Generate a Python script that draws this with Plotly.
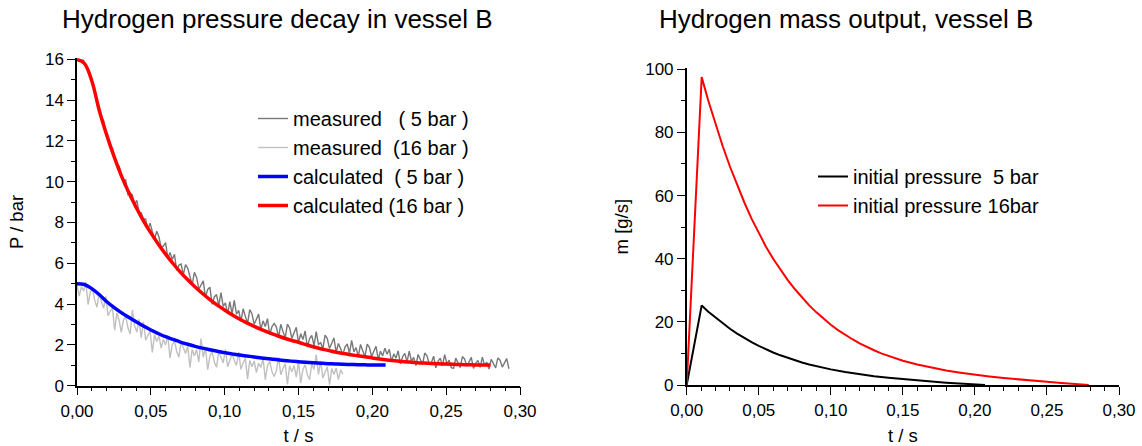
import numpy as np
import plotly.graph_objects as go

# ---------------- data: left chart (pressure) ----------------
t_calc_16 = [0, 0.005, 0.01, 0.015, 0.02, 0.025, 0.03, 0.035, 0.04, 0.045, 0.05, 0.055, 0.06, 0.065,
             0.07, 0.075, 0.08, 0.085, 0.09, 0.095, 0.10, 0.105, 0.11, 0.115, 0.12, 0.125, 0.13, 0.135,
             0.14, 0.145, 0.15, 0.155, 0.16, 0.165, 0.17, 0.175, 0.18, 0.185, 0.19, 0.195, 0.20, 0.205,
             0.21, 0.215, 0.22, 0.225, 0.23, 0.235, 0.24, 0.245, 0.25, 0.255, 0.26, 0.265, 0.27, 0.275, 0.28]
p_calc_16 = [16.0, 15.8, 14.95, 13.52, 12.32, 11.25, 10.3, 9.48, 8.75, 8.08, 7.49, 6.95, 6.45, 5.99,
             5.57, 5.19, 4.84, 4.52, 4.22, 3.95, 3.71, 3.48, 3.27, 3.08, 2.91, 2.75, 2.60, 2.47,
             2.34, 2.23, 2.13, 2.02, 1.91, 1.81, 1.73, 1.65, 1.585, 1.52, 1.47, 1.42, 1.36, 1.31,
             1.265, 1.225, 1.19, 1.16, 1.13, 1.107, 1.088, 1.072, 1.06, 1.047, 1.035, 1.027, 1.02, 1.014, 1.01]

t_calc_5 = [0, 0.005, 0.01, 0.015, 0.02, 0.025, 0.03, 0.035, 0.04, 0.045, 0.05, 0.055, 0.06, 0.065,
            0.07, 0.075, 0.08, 0.085, 0.09, 0.095, 0.10, 0.105, 0.11, 0.115, 0.12, 0.125, 0.13, 0.135,
            0.14, 0.145, 0.15, 0.155, 0.16, 0.165, 0.17, 0.175, 0.18, 0.185, 0.19, 0.195, 0.20, 0.205, 0.209]
p_calc_5 = [5.0, 4.96, 4.76, 4.47, 4.13, 3.84, 3.58, 3.35, 3.14, 2.93, 2.73, 2.56, 2.40, 2.27,
            2.14, 2.03, 1.93, 1.84, 1.76, 1.685, 1.62, 1.56, 1.50, 1.455, 1.41, 1.36, 1.32, 1.28,
            1.24, 1.205, 1.175, 1.145, 1.12, 1.10, 1.08, 1.065, 1.05, 1.04, 1.03, 1.022, 1.015, 1.012, 1.01]

# measured traces, sampled every 1.5 ms
dt_meas = 0.0015
p_meas_dark = [
    16.02, 15.95, 15.97, 15.95, 15.66, 15.53, 15.18, 14.92, 14.37, 14.01,
    13.66, 13.11, 13.01, 12.46, 12.22, 11.7, 11.64, 11.2, 10.8, 10.77,
    10.42, 10.04, 10.09, 9.37, 9.44, 9.35, 8.84, 9.09, 8.52, 8.48,
    8.17, 8.17, 7.63, 7.97, 7.56, 7.19, 7.57, 7.29, 6.78, 6.84,
    7.02, 6.25, 6.53, 6.19, 6.44, 5.65, 5.91, 5.96, 5.43, 5.94,
    5.76, 5.33, 4.95, 5.56, 5.31, 4.73, 4.91, 5.14, 4.33, 4.72,
    4.83, 3.99, 4.35, 4.47, 3.91, 4.56, 3.89, 4.06, 3.51, 4.12,
    3.52, 4.18, 3.51, 3.69, 3.15, 3.77, 3.4, 3.06, 3.73, 3.52,
    3.01, 3.24, 3.51, 2.75, 3.18, 2.9, 3.29, 2.49, 2.89, 3.05,
    2.89, 2.37, 3.01, 2.65, 2.34, 3.02, 2.83, 2.32, 2.57, 2.86,
    2.11, 2.55, 2.27, 2.68, 1.89, 2.3, 2.47, 1.96, 2.65, 2.02,
    2.11, 1.82, 2.48, 2.31, 1.82, 2.07, 2.34, 1.64, 2.07, 1.82,
    1.51, 1.89, 2.05, 1.59, 2.22, 1.66, 1.87, 1.42, 2.02, 1.71,
    1.42, 2.04, 1.88, 1.43, 1.67, 1.93, 1.29, 1.69, 1.46, 1.84,
    1.54, 1.78, 1.18, 1.56, 1.35, 1.71, 1.07, 1.42, 1.58, 1.17,
    1.69, 1.2, 1.39, 0.99, 1.53, 1.27, 1.04, 1.6, 1.47, 1.08,
    1.13, 1.45, 0.88, 1.2, 1.35, 0.98, 1.52, 1.07, 1.25, 0.88,
    0.85, 1.35, 1.11, 0.89, 1.43, 1.31, 0.95, 1.16, 1.39, 0.85,
    1.1, 1.24, 0.9, 1.4, 0.99, 1.15, 0.82, 1.29, 1.07, 0.87,
    1.36, 1.25, 0.91, 1.11, 1.33, 0.83]
p_meas_light = [
    4.95, 4.39, 4.86, 4.64, 5.08, 3.98, 4.59, 4.74, 4.18, 3.85,
    4.51, 4.13, 3.79, 4.37, 3.43, 3.66, 3.8, 2.72, 3.56, 3.21,
    2.62, 3.23, 3.4, 2.84, 2.54, 3.71, 2.93, 2.63, 3.25, 2.35,
    3.13, 2.23, 2.5, 2.68, 1.63, 2.5, 2.17, 2.44, 1.84, 2.27,
    2.0, 2.44, 1.36, 2.0, 2.2, 1.68, 1.4, 2.17, 1.86, 1.58,
    1.92, 0.89, 1.78, 1.47, 1.76, 1.17, 2.31, 1.4, 1.86, 0.79,
    1.45, 1.67, 1.16, 0.9, 1.68, 1.38, 1.12, 1.78, 0.93, 1.23,
    1.55, 1.25, 0.99, 1.65, 0.8, 1.11, 1.33, 0.32, 1.23, 0.93,
    1.21, 0.64, 1.1, 0.89, 1.35, 0.3, 0.97, 1.2, 0.7, 0.45,
    0.72, 1.39, 0.54, 0.84, 1.07, 0.06, 0.97, 0.68, 0.99, 0.42,
    1.18, 0.13, 0.8, 1.03, 0.54, 0.29, 1.09, 0.8, 1.52, 0.55,
    1.22, 0.38, 0.69, 0.93, 0.05, 0.84, 0.55, 0.87, 0.3, 0.78,
    0.57]
t_meas_dark = np.round(np.arange(len(p_meas_dark)) * dt_meas, 4)
t_meas_light = np.round(np.arange(len(p_meas_light)) * dt_meas, 4)

# ---------------- data: right chart (mass flow) ----------------
t_m16 = [0, 0.0104, 0.015, 0.02, 0.025, 0.03, 0.035, 0.04, 0.045, 0.05, 0.055, 0.06, 0.065, 0.07,
         0.075, 0.08, 0.085, 0.09, 0.095, 0.10, 0.105, 0.11, 0.115, 0.12, 0.125, 0.13, 0.135, 0.14,
         0.145, 0.15, 0.16, 0.17, 0.18, 0.19, 0.20, 0.21, 0.22, 0.23, 0.24, 0.25, 0.26, 0.27, 0.279]
m_16 = [0, 97.5, 90, 82.5, 75.6, 69.2, 63.3, 57.8, 52.7, 48.0, 43.8, 40.0, 36.5, 33.3,
        30.4, 27.7, 25.2, 23.0, 21.0, 19.1, 17.4, 15.9, 14.5, 13.2, 12.0, 11.0, 10.0, 9.2,
        8.4, 7.7, 6.5, 5.5, 4.6, 3.9, 3.25, 2.7, 2.2, 1.75, 1.35, 1.0, 0.65, 0.3, 0]

t_m5 = [0, 0.0104, 0.015, 0.02, 0.025, 0.03, 0.035, 0.04, 0.045, 0.05, 0.055, 0.06, 0.065, 0.07,
        0.075, 0.08, 0.085, 0.09, 0.095, 0.10, 0.11, 0.12, 0.13, 0.14, 0.15, 0.16, 0.17, 0.18,
        0.19, 0.20, 0.207]
m_5 = [0, 25.2, 23.2, 21.3, 19.5, 17.8, 16.3, 14.9, 13.6, 12.4, 11.3, 10.3, 9.4, 8.6,
       7.85, 7.15, 6.5, 5.95, 5.4, 4.95, 4.1, 3.4, 2.8, 2.3, 1.85, 1.45, 1.1, 0.75,
       0.45, 0.18, 0]

legend_left = ["measured   ( 5 bar )", "measured  (16 bar )", "calculated  ( 5 bar )", "calculated (16 bar )"]
legend_right = ["initial pressure  5 bar", "initial pressure 16bar"]
titles = ["Hydrogen pressure decay in vessel B", "Hydrogen mass output, vessel B"]

# ---------------- figure ----------------
W, H = 1142, 446
FONT = "Liberation Sans, Arial, sans-serif"

fig = go.Figure()
fig.add_trace(go.Scatter(x=t_meas_dark, y=p_meas_dark, mode="lines", name=legend_left[0],
                         line=dict(color="#787878", width=1.4), xaxis="x", yaxis="y", legend="legend"))
fig.add_trace(go.Scatter(x=t_meas_light, y=p_meas_light, mode="lines", name=legend_left[1],
                         line=dict(color="#c0c0c0", width=1.4), xaxis="x", yaxis="y", legend="legend"))
fig.add_trace(go.Scatter(x=t_calc_5, y=p_calc_5, mode="lines", name=legend_left[2],
                         line=dict(color="#0000ff", width=3.5, shape="spline"), xaxis="x", yaxis="y",
                         legend="legend"))
fig.add_trace(go.Scatter(x=t_calc_16, y=p_calc_16, mode="lines", name=legend_left[3],
                         line=dict(color="#ff0000", width=3.5, shape="spline"), xaxis="x", yaxis="y",
                         legend="legend"))
fig.add_trace(go.Scatter(x=t_m5, y=m_5, mode="lines", name=legend_right[0],
                         line=dict(color="#000000", width=2), xaxis="x2", yaxis="y2", legend="legend2"))
fig.add_trace(go.Scatter(x=t_m16, y=m_16, mode="lines", name=legend_right[1],
                         line=dict(color="#ff0000", width=2), xaxis="x2", yaxis="y2", legend="legend2"))

tickfont = dict(family=FONT, size=17, color="black")
titlefont = dict(family=FONT, size=18.5, color="black")

def xax(domain, anchor):
    return dict(domain=domain, anchor=anchor, range=[0, 0.3], tick0=0, dtick=0.05,
                tickformat=".2f", ticks="outside", ticklen=8, tickwidth=1.3, tickcolor="black",
                showline=True, linecolor="black", linewidth=1.5, showgrid=False, zeroline=False,
                tickfont=tickfont, ticklabelstandoff=1,
                minor=dict(dtick=0.01, ticks="outside", ticklen=4, tickwidth=1.2, tickcolor="black"),
                title=dict(text="t / s", font=titlefont, standoff=11), automargin=False)

def yax(domain, anchor, rng, dtick, mdtick, title, standoff):
    return dict(domain=domain, anchor=anchor, range=rng, tick0=0, dtick=dtick,
                ticks="outside", ticklen=8, tickwidth=1.3, tickcolor="black",
                showline=True, linecolor="black", linewidth=1.5, showgrid=False, zeroline=False,
                tickfont=tickfont, ticklabelstandoff=0,
                minor=dict(dtick=mdtick, ticks="outside", ticklen=4, tickwidth=1.2, tickcolor="black"),
                title=dict(text=title, font=titlefont, standoff=standoff), automargin=False)

fig.update_layout(
    width=W, height=H, margin=dict(l=0, r=0, t=0, b=0),
    paper_bgcolor="white", plot_bgcolor="white",
    separators=", ",
    font=dict(family=FONT, color="black"),
    xaxis=xax([77 / W, 520 / W], "y"),
    yaxis=yax([(H - 385.7) / H, (H - 58.3) / H], "x", [0, 16.05], 2, 1, "P / bar", 16),
    xaxis2=xax([686.7 / W, 1119 / W], "y2"),
    yaxis2=yax([(H - 385) / H, (H - 68.3) / H], "x2", [0, 100.3], 20, 10, "m [g/s]", 12),
    legend=dict(x=253 / W, y=(H - 99) / H, xanchor="left", yanchor="top", bgcolor="rgba(0,0,0,0)",
                font=dict(family=FONT, size=20, color="black"), borderwidth=0, tracegroupgap=0),
    legend2=dict(x=813 / W, y=(H - 157) / H, xanchor="left", yanchor="top", bgcolor="rgba(0,0,0,0)",
                 font=dict(family=FONT, size=20, color="black"), borderwidth=0, tracegroupgap=0),
    annotations=[
        dict(text=titles[0], x=277 / W, y=(H - 19) / H, xref="paper", yref="paper",
             xanchor="center", yanchor="middle", showarrow=False,
             font=dict(family=FONT, size=26, color="black")),
        dict(text=titles[1], x=846 / W, y=(H - 19) / H, xref="paper", yref="paper",
             xanchor="center", yanchor="middle", showarrow=False,
             font=dict(family=FONT, size=26, color="black")),
    ],
)

fig.write_html("out.html")
